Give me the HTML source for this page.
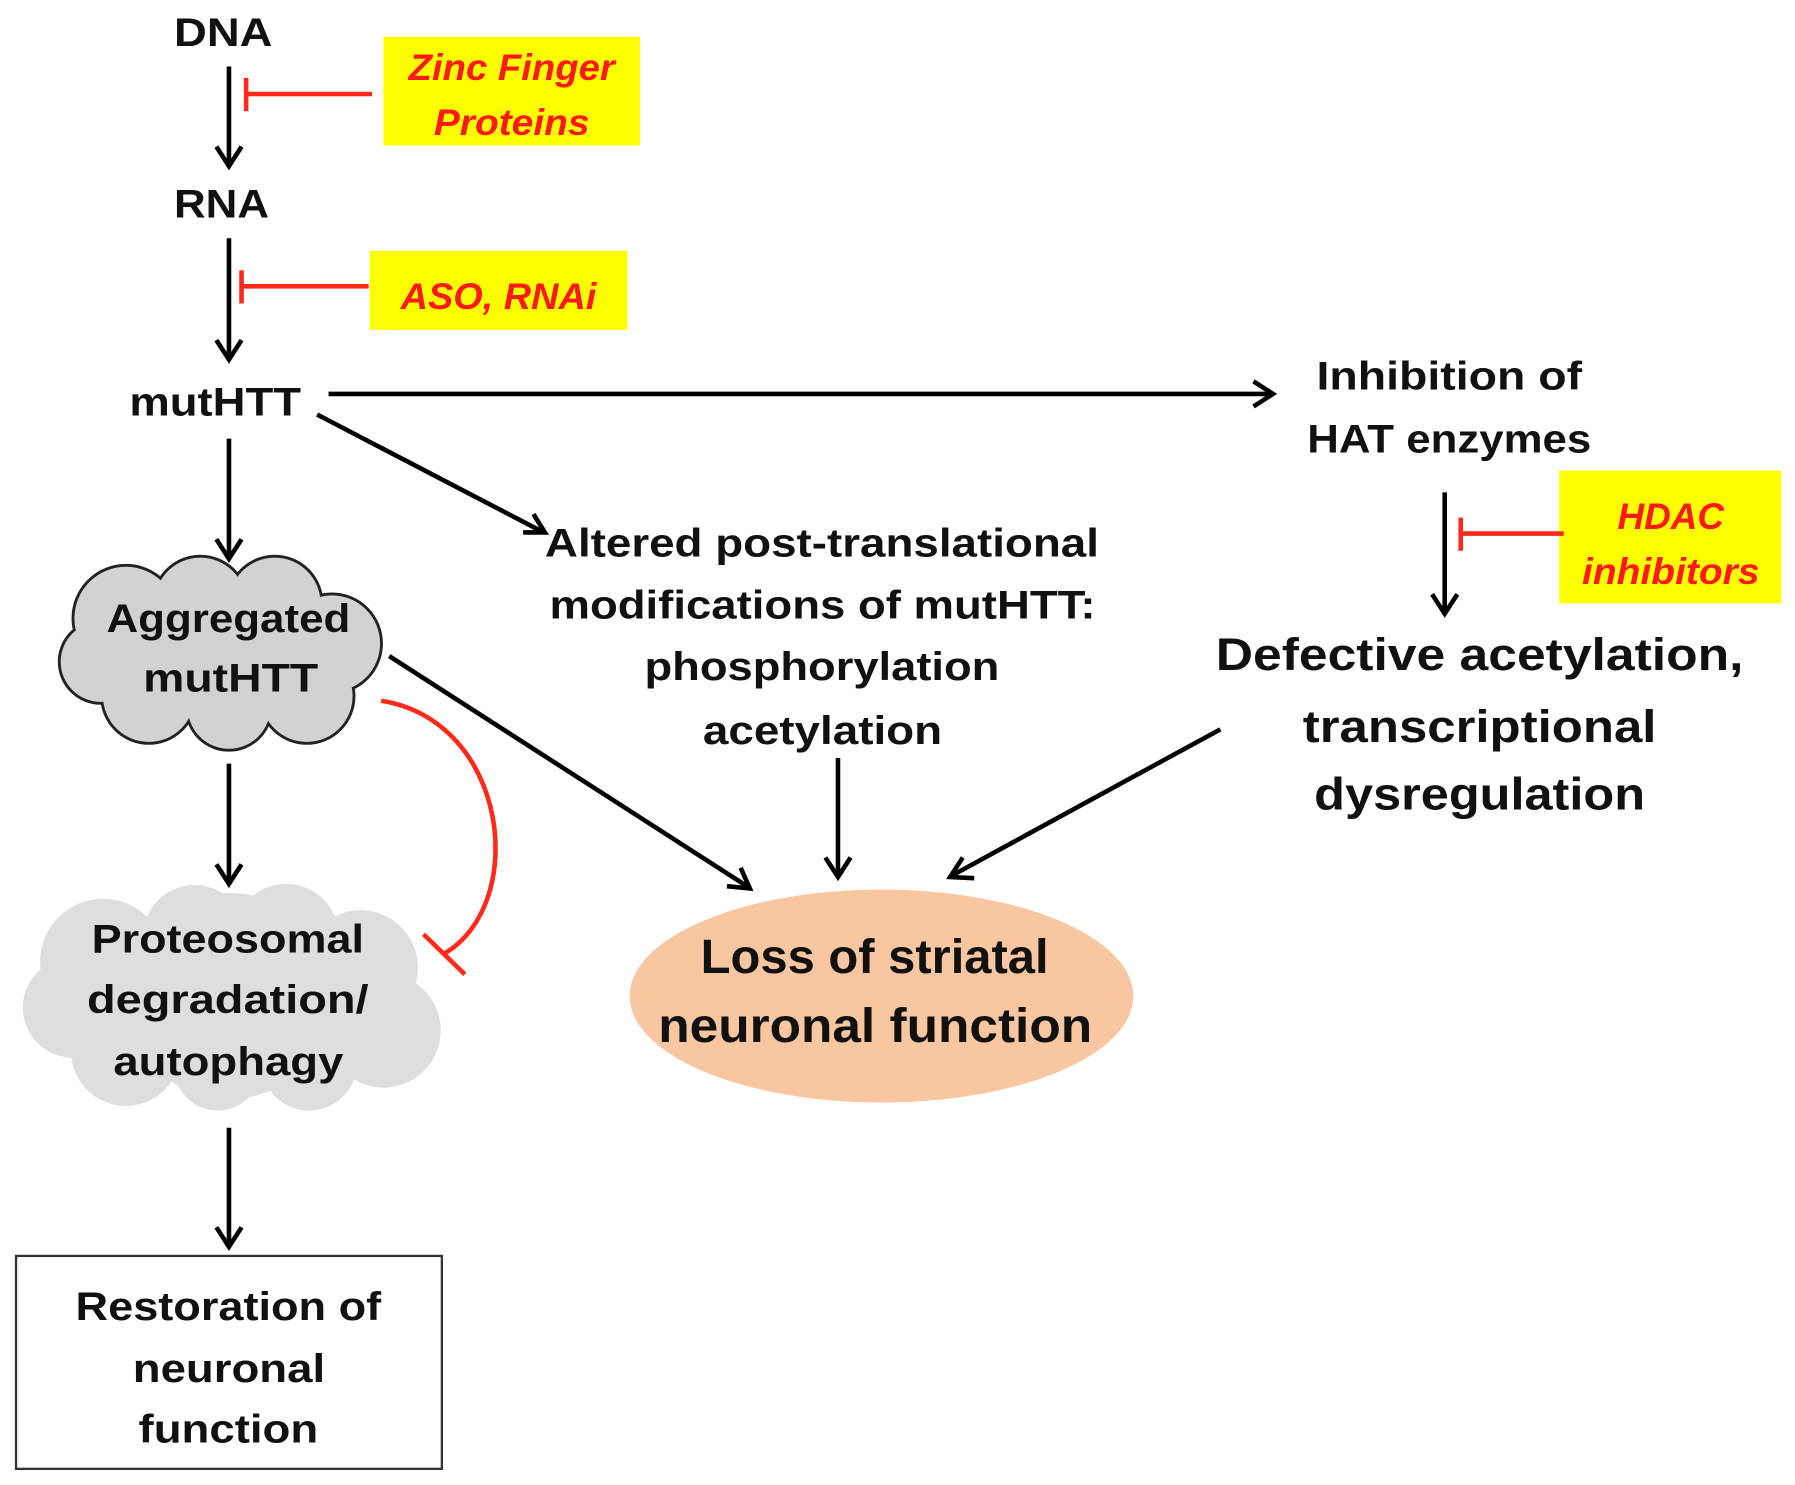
<!DOCTYPE html>
<html><head><meta charset="utf-8"><style>
html,body{margin:0;padding:0;background:#fff;}
svg{display:block;}
text{font-family:"Liberation Sans",sans-serif;font-weight:bold;}
</style></head><body>
<svg width="1795" height="1485" viewBox="0 0 1568 1297" xmlns="http://www.w3.org/2000/svg">
<rect width="1568" height="1297" fill="#fff"/>
<!-- yellow boxes -->
<rect x="335" y="32" width="224" height="95" fill="#ffff00"/>
<rect x="323" y="219" width="225" height="69" fill="#ffff00"/>
<rect x="1362" y="411" width="194" height="116" fill="#ffff00"/>
<g fill="#ff1a1a" font-style="italic" font-size="32" lengthAdjust="spacingAndGlyphs">
<text x="357" y="70" textLength="180" lengthAdjust="spacingAndGlyphs">Zinc Finger</text>
<text x="379" y="118" textLength="136" lengthAdjust="spacingAndGlyphs">Proteins</text>
<text x="350" y="270" textLength="171" lengthAdjust="spacingAndGlyphs">ASO, RNAi</text>
<text x="1413" y="462" textLength="93" lengthAdjust="spacingAndGlyphs">HDAC</text>
<text x="1382" y="510" textLength="155" lengthAdjust="spacingAndGlyphs">inhibitors</text>
</g>
<!-- red inhibitors -->
<g stroke="#ff2a1a" stroke-width="4" fill="none">
<line x1="325" y1="82" x2="215" y2="82"/><line x1="215" y1="68" x2="215" y2="97"/>
<line x1="322" y1="250" x2="211" y2="250"/><line x1="211" y1="236" x2="211" y2="265"/>
<line x1="1366" y1="466" x2="1276" y2="466"/><line x1="1276" y1="452" x2="1276" y2="481"/>
<path d="M333,612 C445,630 462,790 388,833"/>
<line x1="370" y1="816" x2="406" y2="851"/>
</g>
<!-- black arrows -->
<g stroke="#000" stroke-width="4" fill="none">
<line x1="200" y1="58" x2="200" y2="144"/><polyline points="189,128 200,145 211,128"/>
<line x1="200" y1="208" x2="200" y2="313"/><polyline points="189,297 200,314 211,297"/>
<line x1="287" y1="344" x2="1111" y2="344"/><polyline points="1095,333 1112,344 1095,355"/>
<line x1="277" y1="362" x2="475" y2="465"/><polyline points="457,465 476,465 466,449"/>
<line x1="200" y1="383" x2="200" y2="487"/><polyline points="189,471 200,488 211,471"/>
<line x1="1262" y1="430" x2="1262" y2="535"/><polyline points="1251,519 1262,536 1273,519"/>
<line x1="732" y1="662" x2="732" y2="765"/><polyline points="721,749 732,766 743,749"/>
<line x1="340" y1="573" x2="654" y2="775"/><polyline points="635,774 655,776 647,758"/>
<line x1="1066" y1="637" x2="831" y2="765"/><polyline points="841,749 830,766 851,767"/>
<line x1="200" y1="667" x2="200" y2="771"/><polyline points="189,755 200,772 211,755"/>
<line x1="200" y1="985" x2="200" y2="1088"/><polyline points="189,1072 200,1089 211,1072"/>
</g>
<!-- aggregated cloud -->
<g stroke="#222" stroke-width="5" fill="#d2d2d2">
<circle cx="110" cy="540" r="45"/><circle cx="175" cy="527" r="40"/><circle cx="240" cy="527" r="40"/>
<circle cx="290" cy="562" r="42"/><circle cx="268" cy="608" r="40"/><circle cx="200" cy="618" r="36"/>
<circle cx="130" cy="608" r="40"/><circle cx="88" cy="578" r="35"/>
</g>
<g fill="#d2d2d2">
<circle cx="110" cy="540" r="45"/><circle cx="175" cy="527" r="40"/><circle cx="240" cy="527" r="40"/>
<circle cx="290" cy="562" r="42"/><circle cx="268" cy="608" r="40"/><circle cx="200" cy="618" r="36"/>
<circle cx="130" cy="608" r="40"/><circle cx="88" cy="578" r="35"/><circle cx="190" cy="570" r="62"/>
</g>
<!-- proteosomal cloud -->
<g fill="#dedede">
<circle cx="90" cy="840" r="55"/><circle cx="170" cy="818" r="45"/><circle cx="250" cy="818" r="46"/>
<circle cx="315" cy="845" r="50"/><circle cx="335" cy="900" r="50"/><circle cx="270" cy="928" r="42"/>
<circle cx="190" cy="932" r="38"/><circle cx="110" cy="918" r="48"/><circle cx="64" cy="880" r="44"/>
<circle cx="200" cy="870" r="90"/>
</g>
<!-- ellipse -->
<ellipse cx="770" cy="870" rx="220" ry="93" fill="#f8c6a0"/>
<!-- box -->
<rect x="14" y="1097" width="372" height="186" fill="#fff" stroke="#333" stroke-width="2"/>
<!-- labels -->
<g fill="#111" font-size="35">
<text x="152" y="40" textLength="86" lengthAdjust="spacingAndGlyphs">DNA</text>
<text x="152" y="190" textLength="83" lengthAdjust="spacingAndGlyphs">RNA</text>
<text x="113" y="363" textLength="150" lengthAdjust="spacingAndGlyphs">mutHTT</text>
<text x="1150" y="340" textLength="232" lengthAdjust="spacingAndGlyphs">Inhibition of</text>
<text x="1142" y="395" textLength="248" lengthAdjust="spacingAndGlyphs">HAT enzymes</text>
<text x="93" y="552" textLength="213" lengthAdjust="spacingAndGlyphs">Aggregated</text>
<text x="125" y="604" textLength="153" lengthAdjust="spacingAndGlyphs">mutHTT</text>
<text x="476" y="486" textLength="484" lengthAdjust="spacingAndGlyphs">Altered post-translational</text>
<text x="480" y="540" textLength="477" lengthAdjust="spacingAndGlyphs">modifications of mutHTT:</text>
<text x="563" y="594" textLength="310" lengthAdjust="spacingAndGlyphs">phosphorylation</text>
<text x="614" y="650" textLength="209" lengthAdjust="spacingAndGlyphs">acetylation</text>
<text x="80" y="832" textLength="238" lengthAdjust="spacingAndGlyphs">Proteosomal</text>
<text x="76" y="885" textLength="246" lengthAdjust="spacingAndGlyphs">degradation/</text>
<text x="99" y="939" textLength="201" lengthAdjust="spacingAndGlyphs">autophagy</text>
<text x="66" y="1153" textLength="267" lengthAdjust="spacingAndGlyphs">Restoration of</text>
<text x="116" y="1207" textLength="168" lengthAdjust="spacingAndGlyphs">neuronal</text>
<text x="121" y="1260" textLength="157" lengthAdjust="spacingAndGlyphs">function</text>
<text x="1062" y="585" font-size="40" textLength="461" lengthAdjust="spacingAndGlyphs">Defective acetylation,</text>
<text x="1138" y="648" font-size="40" textLength="309" lengthAdjust="spacingAndGlyphs">transcriptional</text>
<text x="1148" y="707" font-size="40" textLength="289" lengthAdjust="spacingAndGlyphs">dysregulation</text>
<text x="612" y="850" font-size="42" textLength="304" lengthAdjust="spacingAndGlyphs">Loss of striatal</text>
<text x="575" y="910" font-size="42" textLength="379" lengthAdjust="spacingAndGlyphs">neuronal function</text>
</g>
</svg>
</body></html>
